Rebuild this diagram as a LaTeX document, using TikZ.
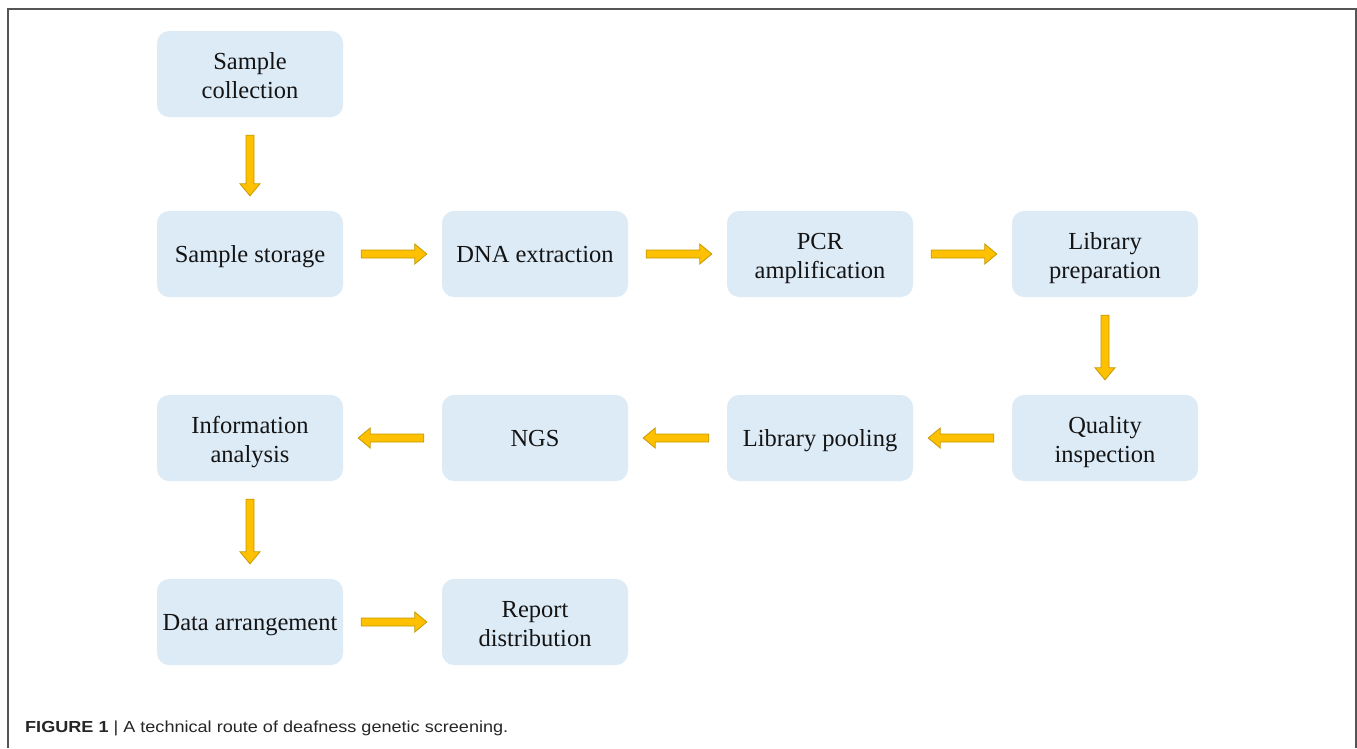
\documentclass[tikz,border=0pt]{standalone}
\usepackage{fontspec}
\setmainfont{Liberation Serif}
\newfontfamily\capfont{Liberation Sans}
\usetikzlibrary{calc}
\definecolor{boxblue}{HTML}{DDEBF7}
\definecolor{arrgold}{HTML}{FFC000}
\definecolor{arredge}{HTML}{C49A00}
\definecolor{framegray}{HTML}{555555}
\newcommand\myTwo[2]{\rule{0pt}{25.6pt}#1\\#2\rule[-5.5pt]{0pt}{5.5pt}}
\tikzset{
  stepbox/.style={fill=boxblue, rounded corners=12pt, minimum width=186pt, minimum height=86pt,
    inner sep=0pt, align=center, font=\fontsize{24.5}{29}\selectfont, text=black!92},
  oneline/.style={stepbox,
    execute at begin node={\rule{0pt}{22.5pt}},
    execute at end node={\rule[-5.5pt]{0pt}{5.5pt}}},
  fatarrow/.style={fill=arrgold, draw=arredge, line width=0.8pt, line join=miter,
    to path={
      ($(\tikztostart)!18pt!(\tikztotarget)$) coordinate (faS)
      ($(\tikztotarget)!15pt!(\tikztostart)$) coordinate (faT)
      ($(faT)!12pt!(faS)$) coordinate (faH)
      ($(faS)!4pt!90:(faT)$) -- ($(faH)!4pt!90:(faT)$) -- ($(faH)!10pt!90:(faT)$) -- (faT)
      -- ($(faH)!10pt!-90:(faT)$) -- ($(faH)!4pt!-90:(faT)$) -- ($(faS)!4pt!-90:(faT)$) -- cycle
    }},
}
\begin{document}
\begin{tikzpicture}[x=1pt,y=-1pt]
\useasboundingbox (0,0) rectangle (1357,748);
\draw[framegray, line width=1.6pt] (8,748) -- (8,9) -- (1356,9) -- (1356,748);
% row 1
\node[stepbox] (sc) at (250,74) {\myTwo{Sample}{collection}};
% row 2
\node[oneline] (ss) at (250,254) {Sample storage};
\node[oneline] (dna) at (535,254) {DNA extraction};
\node[stepbox] (pcr) at (820,254) {\myTwo{PCR}{amplification}};
\node[stepbox] (lp) at (1105,254) {\myTwo{Library}{preparation}};
% row 3
\node[stepbox] (qi) at (1105,438) {\myTwo{Quality}{inspection}};
\node[oneline] (pool) at (820,438) {Library pooling};
\node[oneline] (ngs) at (535,438) {NGS};
\node[stepbox] (ia) at (250,438) {\myTwo{Information}{analysis}};
% row 4
\node[oneline] (da) at (250,622) {Data arrangement};
\node[stepbox] (rd) at (535,622) {\myTwo{Report}{distribution}};
% arrows
\draw[fatarrow] (sc.south) to (ss.north);
\draw[fatarrow] (ss.east) to (dna.west);
\draw[fatarrow] (dna.east) to (pcr.west);
\draw[fatarrow] (pcr.east) to (lp.west);
\draw[fatarrow] (lp.south) to (qi.north);
\draw[fatarrow] (qi.west) to (pool.east);
\draw[fatarrow] (pool.west) to (ngs.east);
\draw[fatarrow] (ngs.west) to (ia.east);
\draw[fatarrow] (ia.south) to (da.north);
\draw[fatarrow] (da.east) to (rd.west);
% caption
\node[anchor=base west, inner sep=0pt, font=\capfont\fontsize{16}{19}\selectfont, text=black!85] (cap) at (25,732)
  {\scalebox{1.13}[1]{\textbf{FIGURE 1} | A technical route of deafness genetic screening.}};
\end{tikzpicture}
\end{document}
